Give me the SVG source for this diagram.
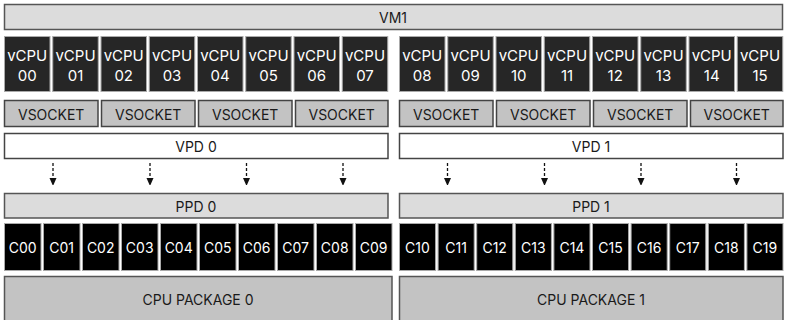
<svg xmlns="http://www.w3.org/2000/svg" width="785" height="320" viewBox="0 0 785 320">
<style>
text{font-family:Inter,"Noto Sans","Liberation Sans",sans-serif;font-size:14px;text-anchor:middle;dominant-baseline:central;fill:#1a1a1a}
.vm{fill:#dcdcdc;stroke:#555;stroke-width:1.5}
.vcpu{fill:#262626;stroke:#aaa;stroke-width:1}
.core{fill:#000;stroke:#aaa;stroke-width:1}
.vs{fill:#c3c3c3;stroke:#444;stroke-width:1.5}
.vpd{fill:#fff;stroke:#444;stroke-width:1.5}
.ppd{fill:#dcdcdc;stroke:#555;stroke-width:1.5}
.pkg{fill:#c3c3c3;stroke:#555;stroke-width:1.5}
.w{fill:#fff}
.v{font-size:15px}
.dash{stroke:#111;stroke-width:1.3;stroke-dasharray:3 2;fill:none}
</style>
<defs>
<marker id="ah" markerWidth="7" markerHeight="8" refX="4" refY="4" orient="auto" markerUnits="userSpaceOnUse"><path d="M0,0.5 L8,4 L0,7.5 z" fill="#111"/></marker>
</defs>
<g id="vm1"><rect class="vm" x="4.5" y="4.5" width="778" height="25"/><text x="393" y="17">VM1</text></g>
<g id="vcpus">
<g id="vcpu00"><rect class="vcpu" x="4.5" y="36.5" width="45.5" height="55"/><text class="w v" x="27.2" y="55">vCPU</text><text class="w v" x="27.2" y="75">00</text></g>
<g id="vcpu01"><rect class="vcpu" x="52.75" y="36.5" width="45.5" height="55"/><text class="w v" x="75.5" y="55">vCPU</text><text class="w v" x="75.5" y="75">01</text></g>
<g id="vcpu02"><rect class="vcpu" x="101" y="36.5" width="45.5" height="55"/><text class="w v" x="123.7" y="55">vCPU</text><text class="w v" x="123.7" y="75">02</text></g>
<g id="vcpu03"><rect class="vcpu" x="149.25" y="36.5" width="45.5" height="55"/><text class="w v" x="172" y="55">vCPU</text><text class="w v" x="172" y="75">03</text></g>
<g id="vcpu04"><rect class="vcpu" x="197.5" y="36.5" width="45.5" height="55"/><text class="w v" x="220.2" y="55">vCPU</text><text class="w v" x="220.2" y="75">04</text></g>
<g id="vcpu05"><rect class="vcpu" x="245.75" y="36.5" width="45.5" height="55"/><text class="w v" x="268.5" y="55">vCPU</text><text class="w v" x="268.5" y="75">05</text></g>
<g id="vcpu06"><rect class="vcpu" x="294" y="36.5" width="45.5" height="55"/><text class="w v" x="316.7" y="55">vCPU</text><text class="w v" x="316.7" y="75">06</text></g>
<g id="vcpu07"><rect class="vcpu" x="342.25" y="36.5" width="45.5" height="55"/><text class="w v" x="365" y="55">vCPU</text><text class="w v" x="365" y="75">07</text></g>
<g id="vcpu08"><rect class="vcpu" x="399.5" y="36.5" width="45.5" height="55"/><text class="w v" x="422.2" y="55">vCPU</text><text class="w v" x="422.2" y="75">08</text></g>
<g id="vcpu09"><rect class="vcpu" x="447.75" y="36.5" width="45.5" height="55"/><text class="w v" x="470.5" y="55">vCPU</text><text class="w v" x="470.5" y="75">09</text></g>
<g id="vcpu10"><rect class="vcpu" x="496" y="36.5" width="45.5" height="55"/><text class="w v" x="518.7" y="55">vCPU</text><text class="w v" x="518.7" y="75">10</text></g>
<g id="vcpu11"><rect class="vcpu" x="544.25" y="36.5" width="45.5" height="55"/><text class="w v" x="567" y="55">vCPU</text><text class="w v" x="567" y="75">11</text></g>
<g id="vcpu12"><rect class="vcpu" x="592.5" y="36.5" width="45.5" height="55"/><text class="w v" x="615.2" y="55">vCPU</text><text class="w v" x="615.2" y="75">12</text></g>
<g id="vcpu13"><rect class="vcpu" x="640.75" y="36.5" width="45.5" height="55"/><text class="w v" x="663.5" y="55">vCPU</text><text class="w v" x="663.5" y="75">13</text></g>
<g id="vcpu14"><rect class="vcpu" x="689" y="36.5" width="45.5" height="55"/><text class="w v" x="711.7" y="55">vCPU</text><text class="w v" x="711.7" y="75">14</text></g>
<g id="vcpu15"><rect class="vcpu" x="737.25" y="36.5" width="45.5" height="55"/><text class="w v" x="760" y="55">vCPU</text><text class="w v" x="760" y="75">15</text></g>
</g>
<g id="vsockets">
<g id="vsocket0"><rect class="vs" x="4.5" y="100.5" width="93.5" height="26"/><text x="51.2" y="114">VSOCKET</text></g>
<g id="vsocket1"><rect class="vs" x="101.5" y="100.5" width="93.5" height="26"/><text x="148.2" y="114">VSOCKET</text></g>
<g id="vsocket2"><rect class="vs" x="198.5" y="100.5" width="93.5" height="26"/><text x="245.2" y="114">VSOCKET</text></g>
<g id="vsocket3"><rect class="vs" x="295.5" y="100.5" width="92.5" height="26"/><text x="341.7" y="114">VSOCKET</text></g>
<g id="vsocket4"><rect class="vs" x="399.5" y="100.5" width="93.5" height="26"/><text x="446.2" y="114">VSOCKET</text></g>
<g id="vsocket5"><rect class="vs" x="496.5" y="100.5" width="93.5" height="26"/><text x="543.2" y="114">VSOCKET</text></g>
<g id="vsocket6"><rect class="vs" x="593.5" y="100.5" width="93.5" height="26"/><text x="640.2" y="114">VSOCKET</text></g>
<g id="vsocket7"><rect class="vs" x="690.5" y="100.5" width="92.5" height="26"/><text x="736.7" y="114">VSOCKET</text></g>
</g>
<g id="vpd0"><rect class="vpd" x="4.5" y="133.5" width="383.5" height="25"/><text x="196" y="146">VPD 0</text></g>
<g id="vpd1"><rect class="vpd" x="399.5" y="133.5" width="383.5" height="25"/><text x="591" y="146">VPD 1</text></g>
<g id="connectors">
<line class="dash" x1="53" y1="163" x2="53" y2="182" marker-end="url(#ah)"/>
<line class="dash" x1="150" y1="163" x2="150" y2="182" marker-end="url(#ah)"/>
<line class="dash" x1="246.5" y1="163" x2="246.5" y2="182" marker-end="url(#ah)"/>
<line class="dash" x1="343" y1="163" x2="343" y2="182" marker-end="url(#ah)"/>
<line class="dash" x1="447.5" y1="163" x2="447.5" y2="182" marker-end="url(#ah)"/>
<line class="dash" x1="544.5" y1="163" x2="544.5" y2="182" marker-end="url(#ah)"/>
<line class="dash" x1="641" y1="163" x2="641" y2="182" marker-end="url(#ah)"/>
<line class="dash" x1="736.5" y1="163" x2="736.5" y2="182" marker-end="url(#ah)"/>
</g>
<g id="ppd0"><rect class="ppd" x="4.5" y="193.5" width="383.5" height="24.5"/><text x="196" y="206">PPD 0</text></g>
<g id="ppd1"><rect class="ppd" x="399.5" y="193.5" width="383.5" height="24.5"/><text x="591" y="206">PPD 1</text></g>
<g id="cores">
<g id="c00"><rect class="core" x="4.5" y="223.5" width="36.5" height="47"/><text class="w" x="22.7" y="247">C00</text></g>
<g id="c01"><rect class="core" x="43.5" y="223.5" width="36.5" height="47"/><text class="w" x="61.7" y="247">C01</text></g>
<g id="c02"><rect class="core" x="82.5" y="223.5" width="36.5" height="47"/><text class="w" x="100.7" y="247">C02</text></g>
<g id="c03"><rect class="core" x="121.5" y="223.5" width="36.5" height="47"/><text class="w" x="139.7" y="247">C03</text></g>
<g id="c04"><rect class="core" x="160.5" y="223.5" width="36.5" height="47"/><text class="w" x="178.7" y="247">C04</text></g>
<g id="c05"><rect class="core" x="199.5" y="223.5" width="36.5" height="47"/><text class="w" x="217.7" y="247">C05</text></g>
<g id="c06"><rect class="core" x="238.5" y="223.5" width="36.5" height="47"/><text class="w" x="256.7" y="247">C06</text></g>
<g id="c07"><rect class="core" x="277.5" y="223.5" width="36.5" height="47"/><text class="w" x="295.7" y="247">C07</text></g>
<g id="c08"><rect class="core" x="316.5" y="223.5" width="36.5" height="47"/><text class="w" x="334.7" y="247">C08</text></g>
<g id="c09"><rect class="core" x="355.5" y="223.5" width="36.5" height="47"/><text class="w" x="373.7" y="247">C09</text></g>
<g id="c10"><rect class="core" x="399.5" y="223.5" width="36.1" height="47"/><text class="w" x="417.5" y="247">C10</text></g>
<g id="c11"><rect class="core" x="438.1" y="223.5" width="36.1" height="47"/><text class="w" x="456.1" y="247">C11</text></g>
<g id="c12"><rect class="core" x="476.7" y="223.5" width="36.1" height="47"/><text class="w" x="494.7" y="247">C12</text></g>
<g id="c13"><rect class="core" x="515.3" y="223.5" width="36.1" height="47"/><text class="w" x="533.3" y="247">C13</text></g>
<g id="c14"><rect class="core" x="553.9" y="223.5" width="36.1" height="47"/><text class="w" x="571.9" y="247">C14</text></g>
<g id="c15"><rect class="core" x="592.5" y="223.5" width="36.1" height="47"/><text class="w" x="610.5" y="247">C15</text></g>
<g id="c16"><rect class="core" x="631.1" y="223.5" width="36.1" height="47"/><text class="w" x="649.1" y="247">C16</text></g>
<g id="c17"><rect class="core" x="669.7" y="223.5" width="36.1" height="47"/><text class="w" x="687.7" y="247">C17</text></g>
<g id="c18"><rect class="core" x="708.3" y="223.5" width="36.1" height="47"/><text class="w" x="726.3" y="247">C18</text></g>
<g id="c19"><rect class="core" x="746.9" y="223.5" width="36.1" height="47"/><text class="w" x="764.9" y="247">C19</text></g>
</g>
<g id="pkg0"><rect class="pkg" x="4.5" y="276.5" width="387.5" height="50"/><text x="198" y="299">CPU PACKAGE 0</text></g>
<g id="pkg1"><rect class="pkg" x="399.5" y="276.5" width="383.5" height="50"/><text x="591" y="299">CPU PACKAGE 1</text></g>
</svg>
